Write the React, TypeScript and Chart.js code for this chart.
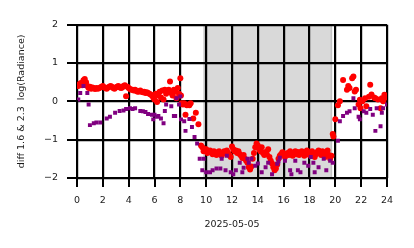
import React, { useEffect, useRef } from "react";
import { Chart, registerables } from "chart.js";

Chart.register(...registerables);

const X_TITLE = "2025-05-05";
const Y_TITLE = "diff 1.6 & 2.3  log(Radiance)";
const X_TICKS = [0, 2, 4, 6, 8, 10, 12, 14, 16, 18, 20, 22, 24];
const Y_TICKS = [-2, -1, 0, 1, 2];
const NIGHT_START = 9.8;
const NIGHT_END = 19.75;

// [hour, value]
const RED_POINTS: [number, number][] = [
  [0.1, 0.4], [0.2, 0.45], [0.3, 0.48], [0.4, 0.42], [0.5, 0.55], [0.6, 0.58], [0.7, 0.5], [0.8, 0.4], [0.9, 0.35],
  [1.0, 0.38], [1.1, 0.33], [1.2, 0.36], [1.3, 0.34], [1.4, 0.32], [1.5, 0.35], [1.6, 0.33], [1.7, 0.34], [1.8, 0.36],
  [1.9, 0.38], [2.0, 0.4], [2.1, 0.37], [2.2, 0.35], [2.3, 0.33], [2.4, 0.36], [2.5, 0.38], [2.6, 0.4], [2.7, 0.38],
  [2.8, 0.35], [2.9, 0.33], [3.0, 0.36], [3.1, 0.38], [3.2, 0.4], [3.3, 0.37], [3.4, 0.35], [3.5, 0.36], [3.6, 0.4],
  [3.7, 0.42], [3.8, 0.13], [3.9, 0.38], [4.0, 0.35], [4.1, 0.32], [4.2, 0.3], [4.3, 0.3], [4.4, 0.28], [4.5, 0.3],
  [4.6, 0.27], [4.7, 0.25], [4.8, 0.26], [4.9, 0.28], [5.0, 0.25], [5.1, 0.24], [5.2, 0.25], [5.3, 0.22], [5.4, 0.24],
  [5.5, 0.22], [5.6, 0.2], [5.7, 0.18], [5.8, 0.15], [5.9, 0.1], [6.0, 0.05],
  [6.1, 0.2], [6.2, -0.02], [6.3, 0.15], [6.4, 0.25], [6.5, 0.1], [6.6, 0.28], [6.7, 0.05], [6.8, 0.3], [6.9, 0.2],
  [7.0, 0.25], [7.1, 0.3], [7.2, 0.52], [7.3, 0.22], [7.4, 0.15], [7.5, 0.3], [7.6, 0.25], [7.7, 0.08], [7.8, 0.35],
  [7.9, 0.2], [8.0, 0.6], [8.05, 0.15], [8.1, -0.05], [8.2, -0.08], [8.3, -0.05], [8.4, -0.35], [8.5, -0.1],
  [8.6, -0.08], [8.7, -0.1], [8.8, -0.05], [9.0, -0.45], [9.2, -0.3], [9.4, -0.6], [9.6, -1.15], [9.7, -1.2],
  [9.8, -1.3], [9.9, -1.25],
  [10.0, -1.25], [10.1, -1.35], [10.2, -1.3], [10.3, -1.28], [10.4, -1.32], [10.5, -1.38], [10.6, -1.3], [10.7, -1.35],
  [10.8, -1.4], [10.9, -1.33], [11.0, -1.3], [11.1, -1.38], [11.2, -1.42], [11.3, -1.36], [11.4, -1.3], [11.5, -1.33],
  [11.6, -1.28], [11.7, -1.35], [11.8, -1.4], [11.9, -1.45], [12.0, -1.18], [12.1, -1.25], [12.2, -1.3], [12.3, -1.28],
  [12.4, -1.35], [12.5, -1.3], [12.6, -1.38], [12.7, -1.42], [12.8, -1.48], [12.9, -1.4], [13.0, -1.5], [13.1, -1.55],
  [13.2, -1.6], [13.3, -1.72], [13.4, -1.78], [13.5, -1.7], [13.6, -1.5], [13.7, -1.35], [13.8, -1.2], [13.9, -1.1],
  [14.0, -1.15], [14.1, -1.25], [14.2, -1.3], [14.3, -1.2], [14.4, -1.35], [14.5, -1.4], [14.6, -1.32], [14.7, -1.38],
  [14.8, -1.25], [14.9, -1.45], [15.0, -1.55], [15.1, -1.62], [15.2, -1.72], [15.3, -1.8], [15.4, -1.75], [15.5, -1.65],
  [15.6, -1.5], [15.7, -1.42], [15.8, -1.38], [15.9, -1.33], [16.0, -1.4], [16.1, -1.45], [16.2, -1.38], [16.3, -1.35],
  [16.4, -1.4], [16.5, -1.3], [16.6, -1.36], [16.7, -1.42], [16.8, -1.35], [16.9, -1.3], [17.0, -1.38], [17.1, -1.32],
  [17.2, -1.4], [17.3, -1.35], [17.4, -1.3], [17.5, -1.36], [17.6, -1.42], [17.7, -1.32], [17.8, -1.28], [17.9, -1.35],
  [18.0, -1.4], [18.1, -1.33], [18.2, -1.3], [18.3, -1.36], [18.4, -1.45], [18.5, -1.38], [18.6, -1.32], [18.7, -1.28],
  [18.8, -1.35], [18.9, -1.4], [19.0, -1.3], [19.1, -1.38], [19.2, -1.45], [19.3, -1.35], [19.4, -1.28], [19.5, -1.4],
  [19.6, -1.5], [19.7, -1.42], [19.8, -0.85], [19.85, -0.92],
  [20.0, -0.47], [20.2, -0.1], [20.35, 0.0], [20.6, 0.56], [20.9, 0.3], [21.0, 0.4], [21.1, 0.35], [21.3, 0.6],
  [21.4, 0.65], [21.5, 0.26], [21.6, 0.3], [21.8, -0.08], [21.9, 0.04], [21.95, -0.18], [22.1, 0.0], [22.3, 0.08],
  [22.4, -0.13], [22.6, 0.12], [22.7, 0.43], [22.8, 0.18], [23.0, 0.1], [23.1, 0.08], [23.3, 0.05], [23.5, -0.18],
  [23.6, 0.08], [23.7, 0.0], [23.8, 0.17], [23.9, 0.1], [24.0, 0.12],
];

const PURPLE_POINTS: [number, number][] = [
  [0.1, 0.05], [0.25, 0.22], [0.5, 0.4], [0.8, 0.22], [0.9, -0.08],
  [1.0, -0.62], [1.3, -0.57], [1.5, -0.55], [1.8, -0.55], [2.3, -0.45], [2.55, -0.4], [2.95, -0.3], [3.3, -0.25],
  [3.6, -0.24], [3.8, -0.2], [4.1, -0.18], [4.3, -0.2], [4.5, -0.18], [4.9, -0.25], [5.1, -0.26], [5.3, -0.28],
  [5.5, -0.33], [5.8, -0.35], [5.9, -0.47], [6.0, -0.35], [6.2, -0.4], [6.3, -0.38], [6.5, -0.45], [6.7, -0.57],
  [6.8, -0.25], [6.9, -0.08], [7.3, -0.13], [7.5, -0.38], [7.6, -0.38], [7.7, 0.08], [7.9, -0.08], [8.0, 0.13],
  [8.05, -0.47], [8.3, -0.52], [8.4, -0.77], [8.7, -0.46], [8.9, -0.67], [9.1, -0.93], [9.3, -1.1], [9.5, -1.5],
  [9.7, -1.8],
  [9.8, -1.5], [10.0, -1.85], [10.3, -1.85], [10.5, -1.8], [10.8, -1.75], [11.1, -1.75], [11.2, -1.5], [11.5, -1.8],
  [11.6, -1.42], [11.9, -1.85], [12.1, -1.9], [12.3, -1.8], [12.6, -1.6], [12.8, -1.85], [12.9, -1.73], [13.2, -1.5],
  [13.3, -1.6], [13.5, -1.5], [13.8, -1.68], [14.0, -1.62], [14.3, -1.85], [14.6, -1.72], [14.8, -1.6], [15.1, -1.9],
  [15.5, -1.63], [15.6, -1.57], [15.7, -1.47], [16.1, -1.55], [16.5, -1.8], [16.6, -1.9], [16.9, -1.55], [17.1, -1.8],
  [17.3, -1.85], [17.6, -1.6], [17.9, -1.68], [18.1, -1.45], [18.3, -1.6], [18.4, -1.85], [18.7, -1.72], [19.1, -1.5],
  [19.3, -1.8], [19.6, -1.55], [19.8, -1.6],
  [20.2, -1.03], [20.35, -0.52], [20.6, -0.38], [20.9, -0.3], [21.1, -0.26], [21.4, 0.08], [21.5, -0.18],
  [21.8, -0.4], [21.9, -0.47], [22.2, -0.26], [22.4, -0.3], [22.7, -0.2], [22.9, -0.35], [23.1, -0.77], [23.2, -0.18],
  [23.5, -0.65], [23.6, -0.3], [23.7, -0.18], [24.0, -0.08],
];

const toXY = (pts: [number, number][]) => pts.map(([x, y]) => ({ x, y }));

const nightPlugin = {
  id: "night",
  beforeDraw(chart: any) {
    const { ctx, chartArea, scales } = chart;
    const x0 = scales.x.getPixelForValue(NIGHT_START);
    const x1 = scales.x.getPixelForValue(NIGHT_END);
    ctx.save();
    ctx.fillStyle = "#d9d9d9";
    ctx.fillRect(x0, chartArea.top, x1 - x0, chartArea.bottom - chartArea.top);
    ctx.fillStyle = "#c4c4c4";
    ctx.fillRect(x0, chartArea.top, 1.5, chartArea.bottom - chartArea.top);
    ctx.fillRect(x1 - 1.5, chartArea.top, 1.5, chartArea.bottom - chartArea.top);
    ctx.restore();
  },
  afterDraw(chart: any) {
    const { ctx, chartArea, scales } = chart;
    ctx.save();
    ctx.fillStyle = "#000";
    for (const v of X_TICKS) {
      const px = scales.x.getPixelForValue(v);
      ctx.fillRect(Math.round(px) - 1, chartArea.bottom, 2, 9);
    }
    for (const v of Y_TICKS) {
      const py = scales.y.getPixelForValue(v);
      ctx.fillRect(chartArea.left - 10, Math.round(py) - 1, 11, 2);
    }
    ctx.restore();
  },
};

export default function App() {
  const ref = useRef<HTMLCanvasElement>(null);
  useEffect(() => {
    document.body.style.margin = "0";
    const chart = new Chart(ref.current!, {
      type: "scatter",
      data: {
        datasets: [
          { data: toXY(PURPLE_POINTS), backgroundColor: "#800080", borderWidth: 0, pointStyle: "rect", pointRadius: 2.8 },
          { data: toXY(RED_POINTS), backgroundColor: "#ff0000", borderWidth: 0, pointStyle: "circle", pointRadius: 3 },
        ],
      },
      options: {
        animation: false,
        responsive: false,
        layout: { padding: { left: 16, top: 23, right: 27, bottom: 14 } },
        plugins: { legend: { display: false }, tooltip: { enabled: false } },
        scales: {
          x: {
            type: "linear",
            min: 0,
            max: 24,
            afterFit: (s: any) => { s.height = 56; },
            afterBuildTicks: (s: any) => { s.ticks = X_TICKS.map((v) => ({ value: v })); },
            border: { display: false },
            grid: { color: "#000", lineWidth: 2.2, drawTicks: false },
            ticks: { color: "#1a1a1a", font: { family: "DejaVu Sans", size: 9.5 }, padding: 17, maxRotation: 0 },
            title: { display: true, text: X_TITLE, color: "#1a1a1a", font: { family: "DejaVu Sans", size: 9.5 }, padding: { top: 4, bottom: 4 } },
          },
          y: {
            min: -2,
            max: 2,
            afterFit: (s: any) => { s.width = 61; },
            afterBuildTicks: (s: any) => { s.ticks = Y_TICKS.map((v) => ({ value: v })); },
            border: { display: false },
            grid: { color: "#000", lineWidth: 2.2, drawTicks: false },
            ticks: {
              color: "#1a1a1a",
              font: { family: "DejaVu Sans", size: 9.5 },
              padding: 19,
              callback: (v: any) => String(v).replace("-", "\u2212"),
            },
            title: { display: true, text: Y_TITLE, color: "#1a1a1a", font: { family: "DejaVu Sans", size: 9.5 }, padding: 0 },
          },
        },
      },
      plugins: [nightPlugin],
    });
    return () => chart.destroy();
  }, []);
  return <canvas ref={ref} width={414} height={248} style={{ display: "block" }} />;
}
